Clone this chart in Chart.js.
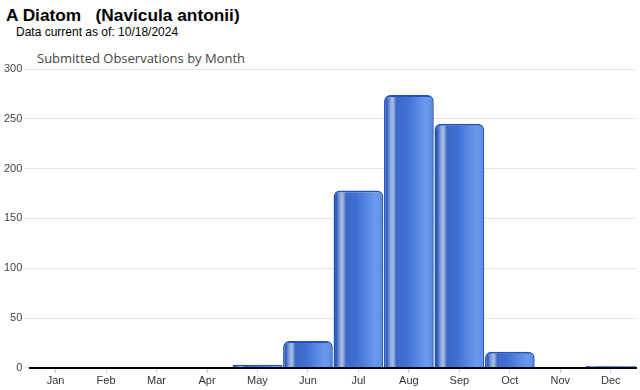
<!DOCTYPE html>
<html><head><meta charset="utf-8">
<script src="https://cdn.jsdelivr.net/npm/chart.js@4.4.1/dist/chart.umd.min.js"></script>
<style>
html,body{margin:0;padding:0;background:#fff;width:640px;height:390px;overflow:hidden;font-family:"Liberation Sans",Arial,sans-serif;}
#h1{position:absolute;left:6px;top:5px;font-size:17.3px;font-weight:bold;color:#000;white-space:pre;}
#h2{position:absolute;left:16px;top:25px;font-size:12px;color:#000;}
#h3{position:absolute;left:37px;top:49px;font-size:13px;color:#444;font-family:"Open Sans","DejaVu Sans",sans-serif;}
#wrap{position:absolute;left:0;top:56px;width:640px;height:334px;}
</style></head><body>
<div id="h1">A Diatom   (Navicula antonii)</div>
<div id="h2">Data current as of: 10/18/2024</div>
<div id="h3">Submitted Observations by Month</div>
<div id="wrap"><canvas id="c"></canvas></div>
<script>
const months = ["Jan","Feb","Mar","Apr","May","Jun","Jul","Aug","Sep","Oct","Nov","Dec"];
const observations = [0,0,0,0,3,27,178,274,245,16,0,2];
const yTicks = [0,50,100,150,200,250,300];

const CAT_PCT = 0.985, BAR_PCT = 1.0;
function barGradient(ctx){
  const chart = ctx.chart;
  const x = chart.scales && chart.scales.x;
  if (!x || !chart.chartArea) return '#3f6cc9';
  const cx = x.getPixelForValue(ctx.dataIndex);
  const cw = (x.width / months.length) * CAT_PCT * BAR_PCT;
  const l = cx - cw/2, r = cx + cw/2;
  const g = chart.ctx.createLinearGradient(l,0,r,0);
  g.addColorStop(0.00,'#1846a6');
  g.addColorStop(0.06,'#3461c2');
  g.addColorStop(0.13,'#8fa9db');
  g.addColorStop(0.18,'#a9bde4');
  g.addColorStop(0.25,'#3e68c6');
  g.addColorStop(0.45,'#3f6fd2');
  g.addColorStop(0.85,'#6b9bef');
  g.addColorStop(0.95,'#5f8fe6');
  g.addColorStop(1.00,'#2456c0');
  return g;
}

new Chart(document.getElementById('c'), {
  type: 'bar',
  data: {
    labels: months,
    datasets: [{
      data: observations,
      backgroundColor: barGradient,
      borderColor: '#2053c0',
      borderWidth: {top:2,left:1.5,right:1.5,bottom:0},
      borderRadius: {topLeft:6, topRight:6, bottomLeft:0, bottomRight:0},
      borderSkipped: 'bottom',
      categoryPercentage: CAT_PCT,
      barPercentage: BAR_PCT
    }]
  },
  options: {
    responsive: true,
    maintainAspectRatio: false,
    animation: false,
    layout: {padding: {left: 2, right: 4, top: 13, bottom: 0}},
    plugins: {legend: {display:false}, tooltip:{enabled:false}, title:{display:false}},
    scales: {
      x: {
        grid: {display: true, drawOnChartArea: false, drawTicks: true, tickLength: 5, color:'#cccccc', offset:false},
        border: {display: true, color: '#000', width: 2},
        ticks: {color:'#333', font:{family:'"Liberation Sans", Arial, sans-serif', size:11}, padding: 2, autoSkip:false, maxRotation:0}
      },
      y: {
        min: 0, max: 300,
        afterBuildTicks: (ax) => { ax.ticks = yTicks.map(v => ({value: v})); },
        grid: {color:'#e3e3e3', tickLength: 6, drawTicks: true},
        border: {display: false},
        ticks: {color:'#444', font:{family:'"Liberation Sans", Arial, sans-serif', size:11}, padding: 2}
      }
    }
  }
});
</script>
</body></html>
